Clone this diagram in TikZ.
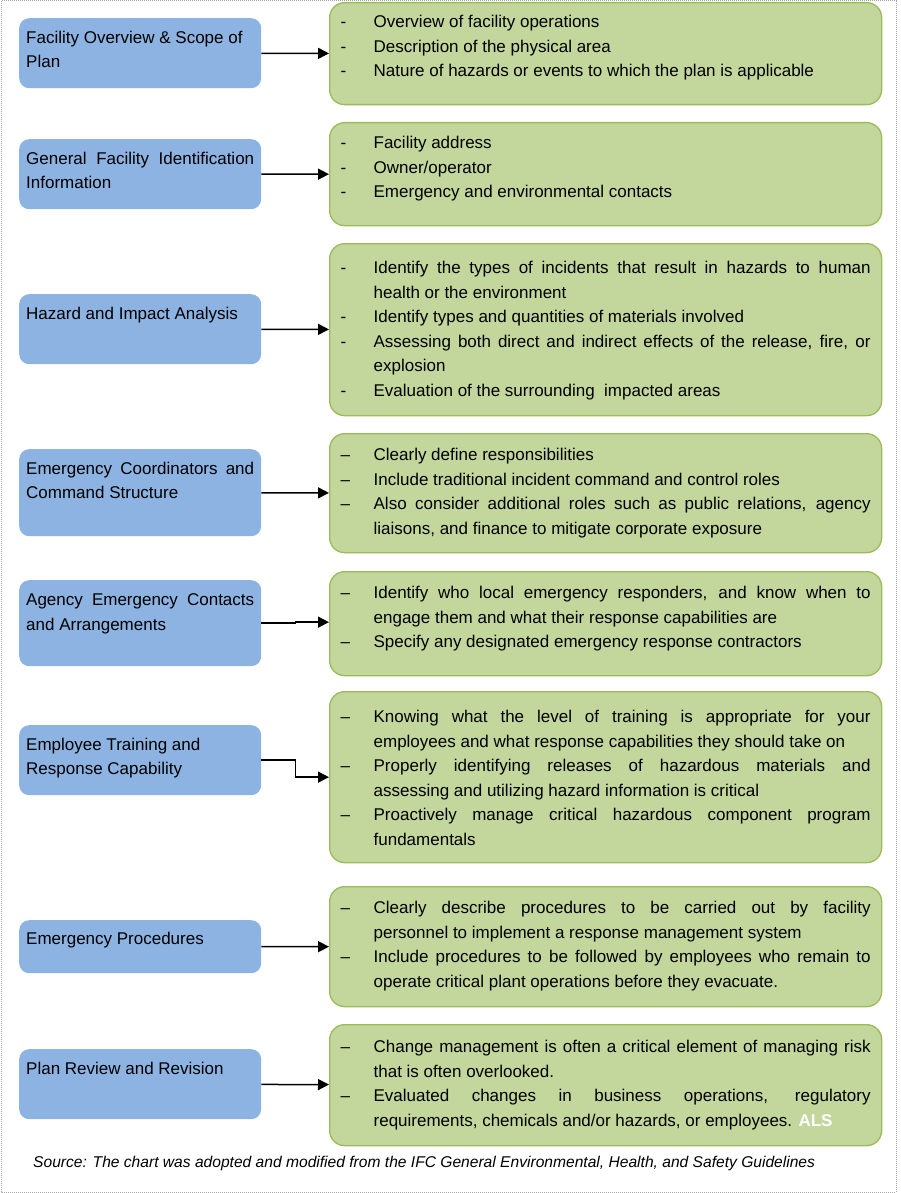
\documentclass[tikz,border=0pt]{standalone}
\usepackage{fontspec}
\setmainfont{Liberation Sans}
\usepackage{xcolor}
\usepackage{tikz}
\usetikzlibrary{arrows.meta}

\definecolor{headblue}{HTML}{8DB3E2}
\definecolor{itemgreen}{HTML}{C3D69B}
\definecolor{itemborder}{HTML}{9BBB59}
\definecolor{framegray}{HTML}{A6A6A6}

\newcommand{\boxtext}[4]{\parbox[t][#1][t]{#2}{\fontsize{17}{24.5}\selectfont\parindent=0pt\vspace*{\dimexpr#3-12.4pt\relax}#4}}
\newcommand{\dashitem}[2]{\par\hangindent=33pt\hangafter=1\noindent\makebox[33pt][l]{#1}#2}

\begin{document}
\begin{tikzpicture}[x=1pt,y=-1pt,
    headbox/.style={fill=headblue, rounded corners=10pt, inner xsep=7pt, inner ysep=0pt, anchor=north west},
    itembox/.style={fill=itemgreen, draw=itemborder, line width=1.3pt, rounded corners=15pt, inner xsep=11pt, inner ysep=0pt, anchor=north west},
    link/.style={-{Triangle[length=11pt,width=11pt]}, line width=1.5pt}]
    \useasboundingbox (0,0) rectangle (900,1193);
    \draw[framegray, line width=1pt, dash pattern=on 1pt off 1pt] (1,1) rectangle (896,1192);

    \node[headbox] (Facility-Overview) at (19,18) {\boxtext{70pt}{228pt}{25pt}{Facility Overview \& Scope of\\Plan}};
    \node[headbox] (Facility-Identification) at (19,139) {\boxtext{70pt}{228pt}{25pt}{General Facility Identification\linebreak Information}};
    \node[headbox] (Hazard-Analysis) at (19,294) {\boxtext{70pt}{228pt}{25pt}{Hazard and Impact Analysis}};
    \node[headbox] (Emergency-Coordinators) at (19,449) {\boxtext{87pt}{228pt}{25pt}{Emergency Coordinators and\linebreak Command Structure}};
    \node[headbox] (Agency-Contacts) at (19,580) {\boxtext{86pt}{228pt}{26pt}{Agency Emergency Contacts\linebreak and Arrangements}};
    \node[headbox] (Employee-Training) at (19,725) {\boxtext{70pt}{228pt}{25pt}{Employee Training and\\Response Capability}};
    \node[headbox] (Emergency-Procedures) at (19,920) {\boxtext{53pt}{228pt}{24pt}{Emergency Procedures}};
    \node[headbox] (Plan-Review) at (19,1049) {\boxtext{70pt}{228pt}{25pt}{Plan Review and Revision}};

    \node[itembox] (Facility-Overview-Items) at (329,2) {\boxtext{102pt}{530pt}{25pt}{%
        \dashitem{-}{Overview of facility operations}
        \dashitem{-}{Description of the physical area}
        \dashitem{-}{Nature of hazards or events to which the plan is applicable}}};
    \node[itembox] (Facility-Identification-Items) at (329,122) {\boxtext{103pt}{530pt}{26pt}{%
        \dashitem{-}{Facility address}
        \dashitem{-}{Owner/operator}
        \dashitem{-}{Emergency and environmental contacts}}};
    \node[itembox] (Hazard-Analysis-Items) at (329,243) {\boxtext{172pt}{530pt}{30pt}{%
        \dashitem{-}{Identify the types of incidents that result in hazards to human\linebreak health or the environment}
        \dashitem{-}{Identify types and quantities of materials involved}
        \dashitem{-}{Assessing both direct and indirect effects of the release, fire, or\linebreak explosion}
        \dashitem{-}{Evaluation of the surrounding\ \ impacted areas}}};
    \node[itembox] (Emergency-Coordinators-Items) at (329,433) {\boxtext{119pt}{530pt}{27pt}{%
        \dashitem{--}{Clearly define responsibilities}
        \dashitem{--}{Include traditional incident command and control roles}
        \dashitem{--}{Also consider additional roles such as public relations, agency\linebreak liaisons, and finance to mitigate corporate exposure}}};
    \node[itembox] (Agency-Contacts-Items) at (329,571) {\boxtext{104pt}{530pt}{27pt}{%
        \dashitem{--}{Identify who local emergency responders, and know when to\linebreak engage them and what their response capabilities are}
        \dashitem{--}{Specify any designated emergency response contractors}}};
    \node[itembox] (Employee-Training-Items) at (329,691) {\boxtext{171pt}{530pt}{31pt}{%
        \dashitem{--}{Knowing what the level of training is appropriate for your\linebreak employees and what response capabilities they should take on}
        \dashitem{--}{Properly identifying releases of hazardous materials and\linebreak assessing and utilizing hazard information is critical}
        \dashitem{--}{Proactively manage critical hazardous component program\linebreak fundamentals}}};
    \node[itembox] (Emergency-Procedures-Items) at (329,886) {\boxtext{120pt}{530pt}{27pt}{%
        \dashitem{--}{Clearly describe procedures to be carried out by facility\linebreak personnel to implement a response management system}
        \dashitem{--}{Include procedures to be followed by employees who remain to\linebreak operate critical plant operations before they evacuate.}}};
    \node[itembox] (Plan-Review-Items) at (329,1024) {\boxtext{121pt}{530pt}{28pt}{%
        \dashitem{--}{Change management is often a critical element of managing risk\linebreak that is often overlooked.}
        \dashitem{--}{Evaluated changes in business operations, regulatory\linebreak requirements, chemicals and/or hazards, or employees. {\color{white}\bfseries ALS}}}};

    \node[anchor=west, inner sep=0pt, font=\fontsize{15.6}{18}\selectfont\itshape] (Source) at (33,1163) {Source: The chart was adopted and modified from the IFC General Environmental, Health, and Safety Guidelines};

    \draw[link] (Facility-Overview) -- (Facility-Overview-Items);
    \draw[link] (Facility-Identification) -- (Facility-Identification-Items);
    \draw[link] (Hazard-Analysis) -- (Hazard-Analysis-Items);
    \draw[link] (Emergency-Coordinators) -- (Emergency-Coordinators-Items);
    \draw[link] (Agency-Contacts.east) -- ++(34,0) |- ([yshift=1.5pt]Agency-Contacts-Items.west);
    \draw[link] (Employee-Training.east) -- ++(34,0) |- (Employee-Training-Items.west);
    \draw[link] (Emergency-Procedures) -- (Emergency-Procedures-Items);
    \draw[link] (Plan-Review) -- (Plan-Review-Items);
\end{tikzpicture}
\end{document}
